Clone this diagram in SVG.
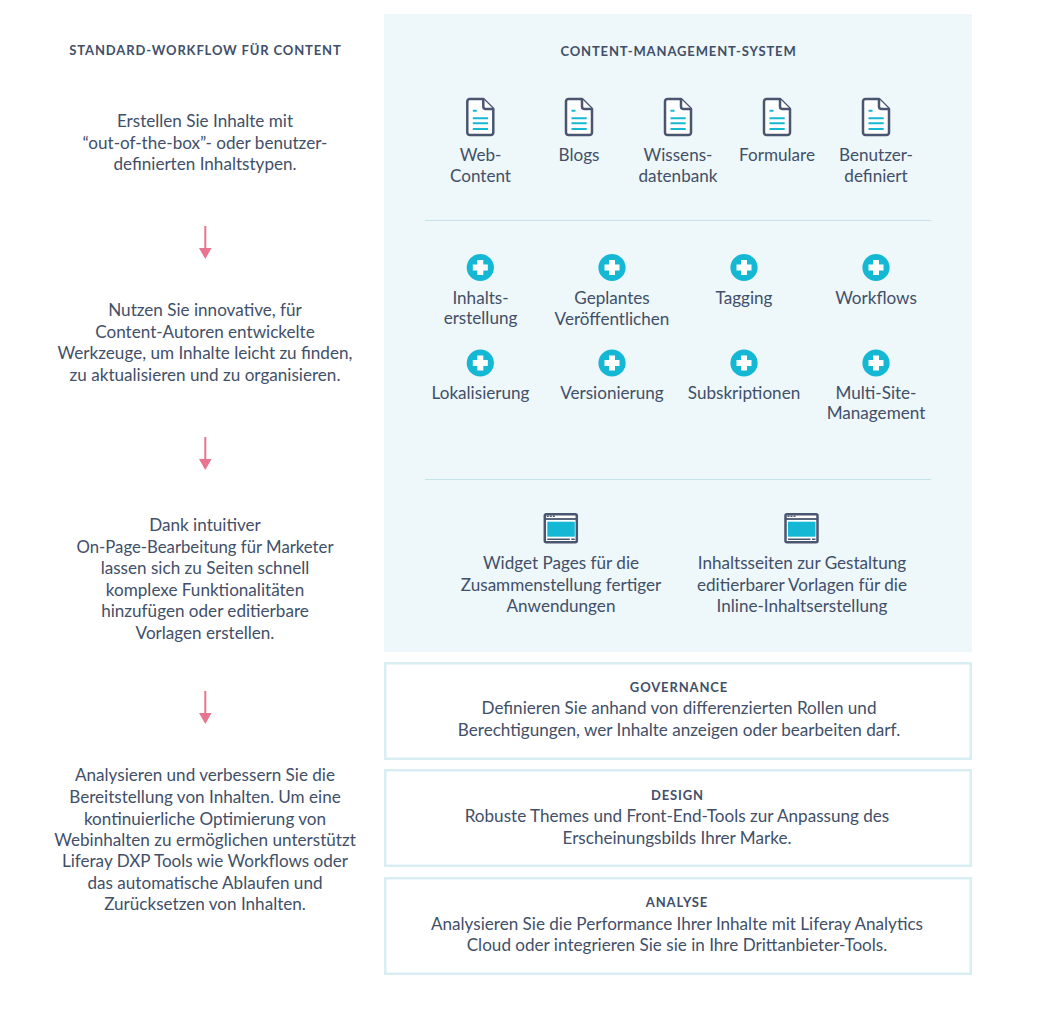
<svg xmlns="http://www.w3.org/2000/svg" width="1052" height="1009" viewBox="0 0 1052 1009">
<style>
text{font-family:"Lato","Liberation Sans",sans-serif;fill:#414f69;text-anchor:middle}
.t{font-size:17.1px}
.h{font-size:13px;font-weight:700;letter-spacing:.87px}
.panel{fill:#eef7f9}
.box{fill:#fff;stroke:#d9eef2;stroke-width:2.5}
.sep{stroke:#c5e3e8;stroke-width:1;fill:none}
.arr{stroke:#e8758f;stroke-width:2;fill:none;marker-end:url(#ah)}
.doc{fill:#fff;stroke:#4a5670;stroke-width:2.5;stroke-linejoin:round}
.ln{stroke:#14b8d4;stroke-width:2;fill:none}
.plus{fill:#14b8d4}
.pw{fill:#fff}
.dk{fill:#4a5670}
</style>
<defs>
<marker id="ah" markerUnits="userSpaceOnUse" markerWidth="14" markerHeight="13" refX="0" refY="6.500" orient="auto"><path d="M0 0.200L11 6.500L0 12.800Z" fill="#e8758f"/></marker>
<g id="docI">
<path class="doc" d="M-10.500 -18H3L13 -8V15.500a2.500 2.500 0 0 1-2.500 2.500H-10.500a2.500 2.500 0 0 1-2.500-2.500V-15.500a2.500 2.500 0 0 1 2.500-2.500Z"/>
<path class="doc" d="M3 -18V-10.500a2.500 2.500 0 0 0 2.500 2.500H13" fill="none"/>
<path class="ln" d="M-7.500 -6.300H-3.500M-7.500 1.300H7.700M-7.500 6.300H7.700M-7.500 12H7.700"/>
</g>
<g id="plusI">
<circle r="13.600" class="plus"/>
<path class="pw" d="M-3 -7.500H3V-3H7.500V3H3V7.500H-3V3H-7.500V-3H-3Z"/>
</g>
<g id="winI">
<rect x="-16" y="-14" width="32" height="28" rx="1.500" fill="#fff" stroke="#4a5670" stroke-width="2.500"/>
<rect x="-16" y="-10.200" width="32" height="1.800" class="dk"/>
<rect x="-13.500" y="-6.600" width="27.500" height="15" fill="#14b8d4"/>
<path d="M-13.500 11H9M10.500 11H14" stroke="#4a5670" stroke-width="1.500"/>
<path d="M-14 -12h2M-11 -12h2M-8 -12h2" stroke="#4a5670" stroke-width="1.500"/>
</g>
</defs>
<rect width="1052" height="1009" fill="#fff"/>

<g id="connectors">
<path class="arr" d="M205.300 226V248"/>
<path class="arr" d="M205.300 437V459"/>
<path class="arr" d="M205.300 691V713"/>
</g>

<g id="workflow-title"><text class="h" x="205.500" y="55">STANDARD-WORKFLOW FÜR CONTENT</text></g>
<g id="step-1">
<text class="t" x="205" y="127">Erstellen Sie Inhalte mit</text>
<text class="t" x="205" y="149">“out-of-the-box”- oder benutzer-</text>
<text class="t" x="205" y="170">definierten Inhaltstypen.</text>
</g>
<g id="step-2">
<text class="t" x="205" y="316">Nutzen Sie innovative, für</text>
<text class="t" x="205" y="338">Content-Autoren entwickelte</text>
<text class="t" x="205" y="359">Werkzeuge, um Inhalte leicht zu finden,</text>
<text class="t" x="205" y="381">zu aktualisieren und zu organisieren.</text>
</g>
<g id="step-3">
<text class="t" x="205" y="531">Dank intuitiver</text>
<text class="t" x="205" y="553" textLength="257" lengthAdjust="spacingAndGlyphs">On-Page-Bearbeitung für Marketer</text>
<text class="t" x="205" y="574">lassen sich zu Seiten schnell</text>
<text class="t" x="205" y="596">komplexe Funktionalitäten</text>
<text class="t" x="205" y="617">hinzufügen oder editierbare</text>
<text class="t" x="205" y="639">Vorlagen erstellen.</text>
</g>
<g id="step-4">
<text class="t" x="205" y="781">Analysieren und verbessern Sie die</text>
<text class="t" x="205" y="803">Bereitstellung von Inhalten. Um eine</text>
<text class="t" x="205" y="825">kontinuierliche Optimierung von</text>
<text class="t" x="205" y="846">Webinhalten zu ermöglichen unterstützt</text>
<text class="t" x="205" y="867">Liferay DXP Tools wie Workflows oder</text>
<text class="t" x="205" y="889">das automatische Ablaufen und</text>
<text class="t" x="205" y="910">Zurücksetzen von Inhalten.</text>
</g>

<g id="cms-panel">
<rect class="panel" x="384" y="14" width="588" height="638"/>
<text class="h" x="678.500" y="56">CONTENT-MANAGEMENT-SYSTEM</text>
<path class="sep" d="M425 220.500H931M425 479.500H931"/>
</g>

<g id="doc-web"><use href="#docI" x="480.300" y="117"/><text class="t" x="480.500" y="161">Web-</text><text class="t" x="480.500" y="182">Content</text></g>
<g id="doc-blogs"><use href="#docI" x="579" y="117"/><text class="t" x="579" y="161">Blogs</text></g>
<g id="doc-wissen"><use href="#docI" x="678" y="117"/><text class="t" x="678" y="161">Wissens-</text><text class="t" x="678" y="182">datenbank</text></g>
<g id="doc-formulare"><use href="#docI" x="777" y="117"/><text class="t" x="777" y="161">Formulare</text></g>
<g id="doc-benutzer"><use href="#docI" x="876" y="117"/><text class="t" x="876" y="161">Benutzer-</text><text class="t" x="876" y="182">definiert</text></g>

<g id="f-inhalt"><use href="#plusI" x="480.300" y="267.500"/><text class="t" x="480.500" y="304">Inhalts-</text><text class="t" x="480.500" y="324">erstellung</text></g>
<g id="f-geplant"><use href="#plusI" x="612" y="267.500"/><text class="t" x="612" y="304">Geplantes</text><text class="t" x="612" y="325">Veröffentlichen</text></g>
<g id="f-tagging"><use href="#plusI" x="744" y="267.500"/><text class="t" x="744" y="304">Tagging</text></g>
<g id="f-workflows"><use href="#plusI" x="876" y="267.500"/><text class="t" x="876" y="304">Workflows</text></g>
<g id="f-lokal"><use href="#plusI" x="480.300" y="363"/><text class="t" x="480.500" y="399">Lokalisierung</text></g>
<g id="f-version"><use href="#plusI" x="612" y="363"/><text class="t" x="612" y="399">Versionierung</text></g>
<g id="f-sub"><use href="#plusI" x="744" y="363"/><text class="t" x="744" y="399">Subskriptionen</text></g>
<g id="f-multi"><use href="#plusI" x="876" y="363"/><text class="t" x="876" y="399">Multi-Site-</text><text class="t" x="876" y="419">Management</text></g>

<g id="p-widget"><use href="#winI" x="560.800" y="528.300"/><text class="t" x="561" y="569">Widget Pages für die</text><text class="t" x="561" y="591">Zusammenstellung fertiger</text><text class="t" x="561" y="612">Anwendungen</text></g>
<g id="p-inhalt"><use href="#winI" x="801.500" y="528.300"/><text class="t" x="802" y="569">Inhaltsseiten zur Gestaltung</text><text class="t" x="802" y="591">editierbarer Vorlagen für die</text><text class="t" x="802" y="612">Inline-Inhaltserstellung</text></g>

<g id="governance"><rect class="box" x="385.250" y="663.250" width="585.500" height="95.500"/><text class="h" x="679" y="692">GOVERNANCE</text><text class="t" x="679" y="714">Definieren Sie anhand von differenzierten Rollen und</text><text class="t" x="679" y="736">Berechtigungen, wer Inhalte anzeigen oder bearbeiten darf.</text></g>
<g id="design"><rect class="box" x="385.250" y="770.250" width="585.500" height="95.500"/><text class="h" x="677.500" y="800">DESIGN</text><text class="t" x="677" y="822">Robuste Themes und Front-End-Tools zur Anpassung des</text><text class="t" x="677" y="844">Erscheinungsbilds Ihrer Marke.</text></g>
<g id="analyse"><rect class="box" x="385.250" y="878.250" width="585.500" height="95.500"/><text class="h" x="677" y="907">ANALYSE</text><text class="t" x="677" y="930">Analysieren Sie die Performance Ihrer Inhalte mit Liferay Analytics</text><text class="t" x="677" y="951">Cloud oder integrieren Sie sie in Ihre Drittanbieter-Tools.</text></g>
</svg>
